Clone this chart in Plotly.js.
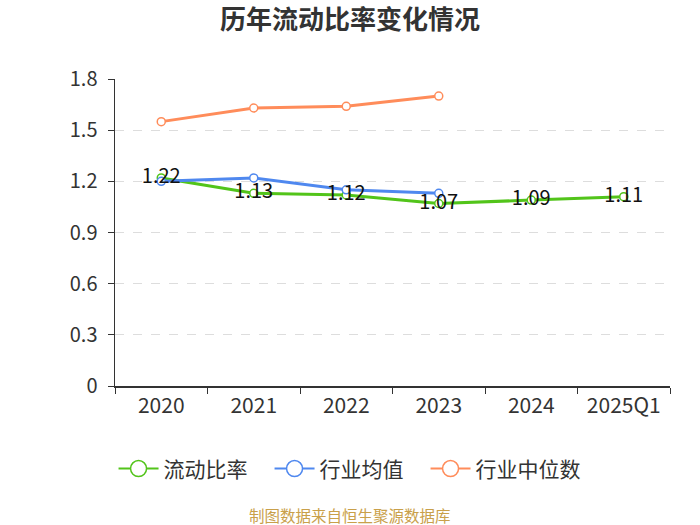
<!DOCTYPE html>
<html>
<head>
<meta charset="utf-8">
<script src="https://cdn.plot.ly/plotly-3.0.1.min.js"></script>
<style>html,body{margin:0;padding:0;background:#fff;}#chart{width:700px;height:525px;}</style>
</head>
<body>
<div id="chart"></div>
<script>
var categories = ["2020", "2021", "2022", "2023", "2024", "2025Q1"];
var currentRatio = [1.22, 1.13, 1.12, 1.07, 1.09, 1.11];
var industryAvg = [1.20, 1.22, 1.15, 1.13];
var industryMedian = [1.55, 1.63, 1.64, 1.70];
var seriesNames = ["流动比率", "行业均值", "行业中位数"];
var colors = ["#52c41a", "#4f88ef", "#ff8c5a"];
var yTicks = [0, 0.3, 0.6, 0.9, 1.2, 1.5, 1.8];
var yTickText = ["0", "0.3", "0.6", "0.9", "1.2", "1.5", "1.8"];

var FONT = "'Noto Sans CJK SC', 'Noto Sans', sans-serif";

function lineTrace(y, i) {
  return {
    type: "scatter",
    mode: "lines+markers",
    x: categories.slice(0, y.length),
    y: y,
    name: seriesNames[i],
    showlegend: false,
    line: {color: colors[i], width: 3},
    marker: {symbol: "circle", size: 8, color: "#ffffff", line: {color: colors[i], width: 1.5}},
    hoverinfo: "x+y"
  };
}
function legendTrace(i) {
  return {
    type: "scatter",
    mode: "lines+markers",
    x: [null], y: [null],
    name: seriesNames[i],
    showlegend: true,
    line: {color: colors[i], width: 2},
    marker: {symbol: "circle", size: 16, color: "#ffffff", line: {color: colors[i], width: 1.5}}
  };
}

var data = [
  lineTrace(currentRatio, 0),
  lineTrace(industryAvg, 1),
  lineTrace(industryMedian, 2),
  {
    type: "scatter", mode: "text", x: categories, y: currentRatio,
    text: currentRatio.map(function (v) { return v.toFixed(2); }),
    textposition: "middle center", showlegend: false, hoverinfo: "skip",
    textfont: {size: 20, color: "#111111", family: FONT}
  },
  legendTrace(0), legendTrace(1), legendTrace(2)
];

var layout = {
  width: 700, height: 525,
  paper_bgcolor: "#ffffff", plot_bgcolor: "#ffffff",
  margin: {l: 115, r: 30, t: 79, b: 139},
  font: {family: FONT, color: "#333333"},
  title: {text: "<b>历年流动比率变化情况</b>", x: 0.5, xanchor: "center", xref: "container", y: 0.962, yanchor: "middle",
          font: {size: 26, color: "#333333", family: FONT}},
  xaxis: {
    type: "category", categoryorder: "array", categoryarray: categories,
    range: [-0.5, 5.5],
    showline: true, linecolor: "#333333", linewidth: 1.5,
    ticks: "outside", tickson: "boundaries", ticklen: 6, tickcolor: "#333333",
    showgrid: false, zeroline: false,
    tickfont: {size: 21, color: "#333333", family: FONT}
  },
  yaxis: {
    range: [0, 1.8], tickvals: yTicks, ticktext: yTickText,
    showline: true, linecolor: "#333333", linewidth: 1.5,
    ticks: "outside", ticklen: 6, tickcolor: "#333333",
    ticklabelstandoff: 6,
    showgrid: true, gridcolor: "#dddddd", griddash: "dash", gridwidth: 1,
    zeroline: false,
    tickfont: {size: 20, color: "#333333", family: FONT}
  },
  legend: {
    orientation: "h", x: 0.419, xanchor: "center", y: -0.27, yanchor: "middle",
    font: {size: 21, color: "#333333", family: FONT},
    itemwidth: 40, tracegroupgap: 0,
    entrywidth: 101, entrywidthmode: "pixels"
  },
  annotations: [{
    text: "制图数据来自恒生聚源数据库", xref: "paper", yref: "paper",
    x: 0.423, y: -0.42, xanchor: "center", yanchor: "middle", showarrow: false,
    font: {size: 15.5, color: "#c9a04a", family: FONT}
  }]
};

Plotly.newPlot("chart", data, layout, {displayModeBar: false, staticPlot: true});
</script>
</body>
</html>
